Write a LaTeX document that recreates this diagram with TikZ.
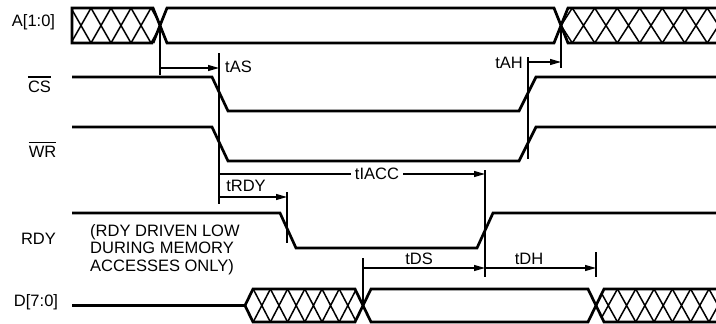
\documentclass[tikz,border=0pt]{standalone}
\usepackage{fontspec}
\setmainfont{Liberation Sans}
\usetikzlibrary{arrows.meta}
\newcommand\myhatch[5]{%
  \foreach \k in {0,...,#3}{%
    \pgfmathsetmacro\xa{#1+\k*#2}%
    \pgfmathsetmacro\xb{#1+(\k+1)*#2}%
    \draw[hatchln] (\xa,#4) -- (\xb,#5) (\xb,#4) -- (\xa,#5);
  }}
\begin{document}
\begin{tikzpicture}[x=1pt,y=-1pt,
  sig/.style={line width=2.7pt},
  thinln/.style={line width=1.2pt},
  hatchln/.style={line width=1.5pt},
  tarrow/.style={thinln,-{Triangle[length=11pt,width=6pt]}},
  lbl/.style={font=\fontsize{16.5}{17.5}\selectfont, inner sep=0pt}]
\useasboundingbox (0,0) rectangle (716,324);
\fill[white] (0,0) rectangle (716,324);

% ---------- A[1:0] bus ----------
\begin{scope}
  \clip (72,8)--(153,8)--(160,25.5)--(153,43)--(72,43)--cycle;
  \myhatch{51}{20}{6}{8}{43}
\end{scope}
\begin{scope}
  \clip (568,8)--(720,8)--(720,43)--(568,43)--(561,25.5)--cycle;
  \myhatch{549.75}{22.5}{9}{8}{43}
\end{scope}
\draw[sig] (153,43)--(72,43)--(72,8)--(153,8)--(167,43)--(554,43)--(568,8)--(720,8);
\draw[sig] (153,43)--(167,8)--(554,8)--(568,43)--(720,43);

% ---------- D[7:0] bus ----------
\begin{scope}
  \clip (245,305.5)--(253,289)--(355,289)--(363,305.5)--(355,322)--(253,322)--cycle;
  \myhatch{236}{17.2}{9}{289}{322}
\end{scope}
\begin{scope}
  \clip (596,305.5)--(604,289)--(720,289)--(720,322)--(604,322)--cycle;
  \myhatch{580.85}{18.3}{8}{289}{322}
\end{scope}
\draw[sig] (72,305.5)--(245,305.5)--(253,289)--(355,289)--(371,322)--(588,322)--(604,289)--(720,289);
\draw[sig] (245,305.5)--(253,322)--(355,322)--(371,289)--(588,289)--(604,322)--(720,322);

% ---------- single signals ----------
\draw[sig] (72,77)--(212,77)--(228,111)--(519,111)--(536,77)--(720,77);
\draw[sig] (72,127)--(212,127)--(228,161)--(519,161)--(536,127)--(720,127);
\draw[sig] (72,213)--(280,213)--(296,248)--(477,248)--(493,213)--(720,213);

% ---------- timing marks ----------
\coordinate (aX1) at (160,25.5);
\coordinate (aX2) at (561,25.5);
\coordinate (dX1) at (363,305.5);
\draw[thinln] (aX1) -- (160,75);
\draw[thinln] (219,53) -- (219,204);
\draw[tarrow] (160,68) -- (219,68);
\node[lbl,anchor=west] (tas) at (225,67) {tAS};

\draw[thinln] (aX2) -- (561,68);
\draw[thinln] (528,57) -- (528,159);
\draw[tarrow] (528,62) -- (561,62);
\node[lbl,anchor=east] (tah) at (523,63) {tAH};

\draw[thinln] (485,170) -- (485,277);
\draw[tarrow] (219,174) -- (485,174);
\node[lbl,fill=white,inner xsep=4pt] (tiacc) at (377,174) {tIACC};

\draw[thinln] (287,192) -- (287,243);
\draw[tarrow] (219,197) -- (287,197);
\node[lbl] (trdy) at (246,186) {tRDY};

\draw[thinln] (dX1) -- (363,258);
\draw[thinln] (596,252) -- (596,277);
\draw[tarrow] (363,268) -- (485,268);
\draw[tarrow] (485,268) -- (596,268);
\node[lbl] (tds) at (419,259) {tDS};
\node[lbl] (tdh) at (529,259) {tDH};

% ---------- labels ----------
\node[lbl] (la) at (33.5,22) {A[1:0]};
\node[lbl] (lcs) at (39.5,87) {CS};
\draw[thinln] ([yshift=4pt]lcs.north west) -- ([yshift=4pt]lcs.north east);
\node[lbl] (lwr) at (42.5,152) {WR};
\draw[thinln] ([yshift=4pt]lwr.north west) -- ([yshift=4pt]lwr.north east);
\node[lbl] (lrdy) at (38.5,239) {RDY};
\node[lbl] (ld) at (36,302) {D[7:0]};
\node[lbl,anchor=north west,align=left] (note) at (90,224)
  {(RDY DRIVEN LOW\\DURING MEMORY\\ACCESSES ONLY)};
\end{tikzpicture}
\end{document}
